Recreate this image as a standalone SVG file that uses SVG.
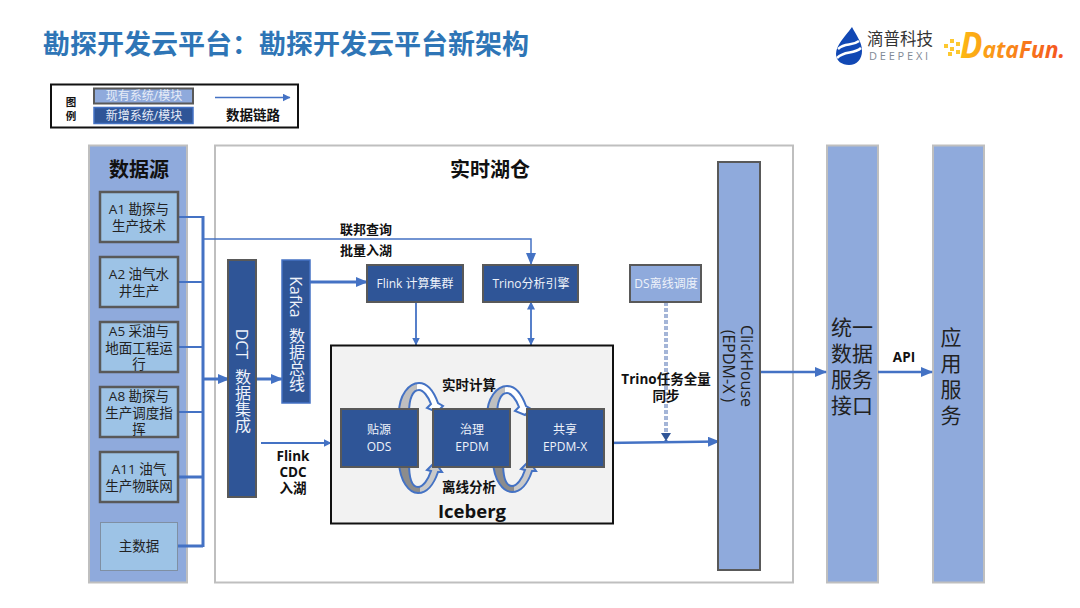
<svg xmlns="http://www.w3.org/2000/svg" width="1080" height="608" viewBox="0 0 1080 608">
<style>
text{font-family:"Open Sans","Noto Sans CJK SC","Noto Sans",sans-serif;text-anchor:middle}
.b{font-weight:700;fill:#111}
.w{fill:#eef2fa;font-size:12px}
.d{fill:#222;font-size:13.500px}
.src{fill:#9dc3e6;stroke:#595959;stroke-width:2.500}
.new{fill:#2f5597;stroke:#595959;stroke-width:2}
.panel{fill:#8faadc;stroke:#bfbfbf;stroke-width:2}
.l{fill:none;stroke:#4472c4}
.v{writing-mode:vertical-rl;word-spacing:6px}
.lb{font-size:13.500px}
.u{font-size:21px;fill:#222}
</style>
<defs>
<marker id="a" markerUnits="userSpaceOnUse" markerWidth="12" markerHeight="10" refX="11" refY="5" orient="auto-start-reverse"><path d="M0,0L12,5L0,10Z" fill="#4472c4"/></marker>
<marker id="as" markerUnits="userSpaceOnUse" markerWidth="8" markerHeight="8" refX="7.500" refY="4" orient="auto-start-reverse"><path d="M0,0L8,4L0,8Z" fill="#4472c4"/></marker>
<linearGradient id="gt" x1="0" x2="1" y1="0" y2="0"><stop offset=".42" stop-color="#bfbfbf"/><stop offset=".42" stop-color="#fff"/></linearGradient>
<linearGradient id="gb" x1="0" x2="1" y1="0" y2="0"><stop offset=".5" stop-color="#8c8c8c"/><stop offset=".5" stop-color="#c9c9c9"/></linearGradient>
<linearGradient id="df" x1="0" x2="1" y1="0" y2="0"><stop offset="0" stop-color="#fdb913"/><stop offset="1" stop-color="#f4511e"/></linearGradient>
<path id="up" d="M399,413C399,395 409,383 419,383C428,383 434,392 438,403L443,406L437,412L427,408L431,404C428,396 423,390 419,390C413,390 409,398 409,413Z" stroke="#4472c4" stroke-width="2" fill="url(#gt)"/>
<path id="dn" d="M399,463C400,481 409,493 418,493C427,493 434,484 438,472L442,472L435,462L427,470L431,471C428,480 423,487 418,487C412,487 409,478 409,463Z" stroke="#4472c4" stroke-width="2" fill="url(#gb)"/>
</defs>
<rect width="1080" height="608" fill="#fff"/>
<text x="286" y="54" style="font-size:27px;font-weight:700;fill:#2e75b6">勘探开发云平台&#xFF1A;勘探开发云平台新架构</text>

<g id="logo-deepexi">
<path d="M852,27C844,38 836,45 836,54C836,61 842,65 849,65C857,65 862,59 862,51C862,42 856,35 852,27Z" fill="#1148b4"/>
<path d="M838,49C846,42 851,47 859,41M837,58C845,50 853,55 861,48" fill="none" stroke="#fff" stroke-width="2.500"/>
<text x="900" y="45" style="font-size:16.500px;fill:#333">滴普科技</text>
<text x="900" y="60" style="font-size:11px;fill:#7f8a96;letter-spacing:2.800px">DEEPEXI</text>
</g>
<g id="logo-datafun">
<g fill="#fdc830"><rect x="944" y="44" width="4" height="4"/><rect x="950" y="39" width="4" height="4"/><rect x="950" y="47" width="4" height="4"/><rect x="956" y="42" width="4" height="4"/><rect x="956" y="50" width="4" height="4"/><rect x="948" y="52" width="4" height="4"/></g>
<text x="960" y="58" style="text-anchor:start;font-size:24px;font-weight:700;font-style:italic;fill:url(#df)" textLength="105" lengthAdjust="spacingAndGlyphs"><tspan style="font-size:35px">D</tspan>ataFun.</text>
</g>

<g id="legend">
<rect x="51" y="84.500" width="247" height="43" fill="#fff" stroke="#111" stroke-width="2"/>
<rect x="94" y="88.500" width="99" height="15" fill="#8faadc" stroke="#595959" stroke-width="2"/>
<text x="144" y="100" style="font-size:12px;fill:#e6ecf7">现有系统/模块</text>
<rect x="94" y="107.500" width="99" height="16" fill="#2f5597" stroke="#4472c4" stroke-width="1.500"/>
<text x="144" y="120" style="font-size:12px;fill:#e6ecf7">新增系统/模块</text>
<text x="71" y="106" class="b" style="font-size:10.500px">图</text>
<text x="71" y="120" class="b" style="font-size:10.500px">例</text>
<text x="253" y="120" class="b lb">数据链路</text>
<path d="M215,97.500H290" class="l" stroke-width="1.500" marker-end="url(#as)"/>
</g>

<g id="sources-panel"><rect x="89" y="145.500" width="98" height="437" class="panel"/>
<text x="139" y="177" class="b" style="font-size:20px">数据源</text></g>
<g id="lake-frame"><rect x="215" y="145.500" width="578" height="437" fill="#fff" stroke="#bfbfbf" stroke-width="2"/>
<text x="490" y="177" class="b" style="font-size:20px">实时湖仓</text></g>
<g id="unified"><rect x="827" y="145.500" width="51" height="437" class="panel"/>
<text x="852" y="335" class="u">统一</text><text x="852" y="361" class="u">数据</text><text x="852" y="387" class="u">服务</text><text x="852" y="413" class="u">接口</text></g>
<g id="apps"><rect x="933" y="145.500" width="51" height="437" class="panel"/>
<text x="951" y="345" class="u">应</text><text x="951" y="371" class="u">用</text><text x="951" y="397" class="u">服</text><text x="951" y="423" class="u">务</text></g>

<g id="connectors">
<path d="M178,217H203M178,282H203M178,347H203M178,412H203" class="l" stroke-width="2"/>
<path d="M178,477H203M178,546H203M203,216V547" class="l" stroke-width="3"/>
<path d="M203,239H531V264" class="l" stroke-width="1.500" marker-end="url(#a)"/>
<path d="M203,379H229" class="l" stroke-width="3" marker-end="url(#a)"/>
<path d="M256,379H282" class="l" stroke-width="3" marker-end="url(#a)"/>
<path d="M310,282H367" class="l" stroke-width="3" marker-end="url(#a)"/>
<path d="M416,302V345" class="l" stroke-width="1.800" marker-end="url(#as)"/>
<path d="M531,302V345" class="l" stroke-width="1.800" marker-start="url(#as)" marker-end="url(#as)"/>
<path d="M261,443H331" class="l" stroke-width="1.800" marker-end="url(#as)"/>
<path d="M604,443L719,441.500" class="l" stroke-width="2.500" marker-end="url(#a)"/>
<path d="M666,302V441" fill="none" stroke="#4a6db0" stroke-width="3" stroke-dasharray="4 2"/>
<path d="M666,302V435" fill="none" stroke="#fff" stroke-width="1"/>
<path d="M661,433H671L666,441Z" fill="#2f5597"/>
<path d="M760,372H826" class="l" stroke-width="2.500" marker-end="url(#a)"/>
<path d="M878,372H932" class="l" stroke-width="2.500" marker-end="url(#a)"/>
</g>

<g id="A1"><rect x="100" y="192" width="78" height="50" class="src"/><text x="139" y="214" class="d">A1 勘探与</text><text x="139" y="231" class="d">生产技术</text></g>
<g id="A2"><rect x="100" y="257" width="78" height="50" class="src"/><text x="139" y="279" class="d">A2 油气水</text><text x="139" y="296" class="d">井生产</text></g>
<g id="A5"><rect x="100" y="322" width="78" height="50" class="src"/><text x="139" y="336" class="d">A5 采油与</text><text x="139" y="353" class="d">地面工程运</text><text x="139" y="369" class="d">行</text></g>
<g id="A8"><rect x="100" y="387" width="78" height="50" class="src"/><text x="139" y="401" class="d">A8 勘探与</text><text x="139" y="418" class="d">生产调度指</text><text x="139" y="434" class="d">挥</text></g>
<g id="A11"><rect x="100" y="452" width="78" height="50" class="src"/><text x="139" y="474" class="d">A11 油气</text><text x="139" y="491" class="d">生产物联网</text></g>
<g id="master"><rect x="100.500" y="522.500" width="77" height="48" fill="#9dc3e6" stroke="#7f8fa3" stroke-width="1"/><text x="139" y="551" class="d">主数据</text></g>

<g id="DCT"><rect x="228" y="260" width="28" height="237" class="new"/>
<text x="242" y="381" class="v" style="font-size:16px;fill:#eef2fa">DCT 数据集成</text></g>
<g id="Kafka"><rect x="282" y="260" width="28" height="143" fill="#2f5597" stroke="#4472c4" stroke-width="1.500"/>
<text x="296" y="334" class="v" style="font-size:16px;fill:#eef2fa">Kafka 数据总线</text></g>
<g id="Flink"><rect x="367" y="265" width="96" height="37" class="new"/><text x="415" y="288" class="w">Flink 计算集群</text></g>
<g id="Trino"><rect x="483" y="265" width="95" height="37" class="new"/><text x="531" y="288" class="w">Trino分析引擎</text></g>
<g id="DS"><rect x="630" y="265" width="71" height="37" fill="#8faadc" stroke="#595959" stroke-width="2"/><text x="666" y="288" class="w">DS离线调度</text></g>
<g id="labels">
<text x="366" y="234" class="b" style="font-size:13px">联邦查询</text>
<text x="366" y="255" class="b" style="font-size:13px">批量入湖</text>
<text x="293" y="461" class="b lb">Flink</text>
<text x="293" y="477" class="b lb">CDC</text>
<text x="293" y="493" class="b lb">入湖</text>
<text x="666" y="384" class="b lb">Trino任务全量</text>
<text x="666" y="401" class="b lb">同步</text>
<text x="904" y="362" class="b lb">API</text>
</g>
<g id="Iceberg"><rect x="331" y="345.500" width="282" height="178" fill="#f2f2f2" stroke="#111" stroke-width="2"/>
<text x="472" y="518" class="b" style="font-size:18.500px">Iceberg</text>
<text x="469" y="390" class="b lb">实时计算</text>
<text x="469" y="492" class="b lb">离线分析</text></g>
<g id="cycles">
<use href="#up"/><use href="#up" transform="translate(88,3)"/>
<use href="#dn"/><use href="#dn" transform="translate(94,-1)"/>
</g>
<g id="ODS"><rect x="341" y="409" width="77" height="58" class="new"/><text x="379" y="434" class="w">贴源</text><text x="379" y="451" class="w">ODS</text></g>
<g id="EPDM"><rect x="433" y="409" width="77" height="58" class="new"/><text x="472" y="434" class="w">治理</text><text x="472" y="451" class="w">EPDM</text></g>
<g id="EPDMX"><rect x="527" y="409" width="77" height="58" class="new"/><text x="565" y="434" class="w">共享</text><text x="565" y="451" class="w">EPDM-X</text></g>
<g id="ClickHouse"><rect x="718" y="162" width="42" height="408" fill="#8faadc" stroke="#595959" stroke-width="2"/>
<g transform="translate(739,366) rotate(90)"><text x="0" y="-2" style="font-size:16px;fill:#222">ClickHouse</text><text x="0" y="16" style="font-size:16px;fill:#222">(EPDM-X )</text></g></g>
</svg>
